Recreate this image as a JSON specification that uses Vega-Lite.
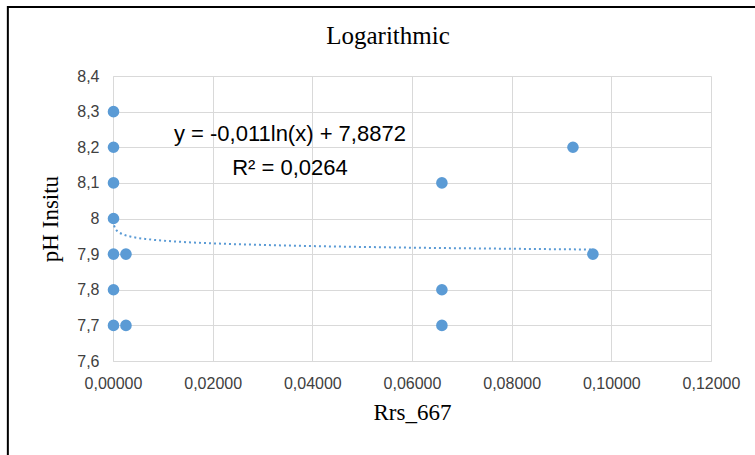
{
  "$schema": "https://vega.github.io/schema/vega-lite/v6.json",
  "width": 598,
  "height": 285,
  "autosize": {"type": "none"},
  "padding": {"left": 113, "top": 76, "right": 44, "bottom": 94},
  "background": "white",
  "title": {
    "text": "Logarithmic",
    "font": "Liberation Serif",
    "fontSize": 25,
    "fontWeight": "normal",
    "color": "#000000",
    "anchor": "middle",
    "frame": "group",
    "baseline": "middle",
    "dx": -24,
    "offset": -55
  },
  "config": {
    "locale": {"number": {"decimal": ",", "thousands": ".", "grouping": [3], "currency": ["", " €"]}},
    "view": {"stroke": null},
    "axis": {
      "labelFont": "Liberation Sans",
      "labelFontSize": 16,
      "labelColor": "#404040",
      "labelFlush": false,
      "labelOverlap": false,
      "titleFont": "Liberation Serif",
      "titleFontSize": 23,
      "titleFontWeight": "normal",
      "titleColor": "#000000",
      "gridColor": "#d9d9d9",
      "gridWidth": 1,
      "domainColor": "#d9d9d9",
      "ticks": false
    }
  },
  "datasets": {
    "points": [
      {"x": 0.0001, "y": 8.3},
      {"x": 0.0001, "y": 8.2},
      {"x": 0.0001, "y": 8.1},
      {"x": 0.0001, "y": 8.0},
      {"x": 0.0001, "y": 7.9},
      {"x": 0.0001, "y": 7.8},
      {"x": 0.0001, "y": 7.7},
      {"x": 0.0026, "y": 7.9},
      {"x": 0.0026, "y": 7.7},
      {"x": 0.066, "y": 8.1},
      {"x": 0.066, "y": 7.8},
      {"x": 0.066, "y": 7.7},
      {"x": 0.0923, "y": 8.2},
      {"x": 0.0963, "y": 7.9}
    ],
    "trend": [
      {"x": 0.0002, "y": 7.9809},
      {"x": 0.0005, "y": 7.9708},
      {"x": 0.001, "y": 7.9632},
      {"x": 0.002, "y": 7.9556},
      {"x": 0.004, "y": 7.9479},
      {"x": 0.007, "y": 7.9418},
      {"x": 0.01, "y": 7.9379},
      {"x": 0.015, "y": 7.9334},
      {"x": 0.02, "y": 7.9302},
      {"x": 0.03, "y": 7.9258},
      {"x": 0.04, "y": 7.9226},
      {"x": 0.05, "y": 7.9202},
      {"x": 0.06, "y": 7.9181},
      {"x": 0.07, "y": 7.9165},
      {"x": 0.08, "y": 7.915},
      {"x": 0.09, "y": 7.9137},
      {"x": 0.0963, "y": 7.9129}
    ],
    "notes": [
      {"x": 0.0355, "y": 8.237, "label": "y = -0,011ln(x) + 7,8872"},
      {"x": 0.0355, "y": 8.142, "label": "R² = 0,0264"}
    ],
    "frame": [
      {"x": -0.0211, "y": 8.594, "x2": 0.3, "y2": 6.0}
    ]
  },
  "encoding": {
    "x": {
      "field": "x", "type": "quantitative",
      "scale": {"domain": [0, 0.12], "nice": false, "zero": false},
      "axis": {"title": "Rrs_667", "values": [0, 0.02, 0.04, 0.06, 0.08, 0.1, 0.12], "format": ".5f", "labelPadding": 14, "titlePadding": 10}
    },
    "y": {
      "field": "y", "type": "quantitative",
      "scale": {"domain": [7.6, 8.4], "nice": false, "zero": false},
      "axis": {"title": "pH Insitu", "values": [7.6, 7.7, 7.8, 7.9, 8.0, 8.1, 8.2, 8.3, 8.4], "tickCount": 9, "format": "~g", "labelPadding": 14, "titlePadding": 14}
    }
  },
  "layer": [
    {
      "data": {"name": "frame"},
      "mark": {"type": "rect", "fill": null, "stroke": "#000000", "strokeWidth": 2, "clip": false},
      "encoding": {
        "x2": {"field": "x2"},
        "y2": {"field": "y2"}
      }
    },
    {
      "data": {"name": "trend"},
      "mark": {"type": "line", "color": "#5B9BD5", "strokeWidth": 2, "strokeDash": [2, 3], "interpolate": "monotone"}
    },
    {
      "data": {"name": "points"},
      "mark": {"type": "point", "filled": true, "opacity": 1, "color": "#5B9BD5", "size": 135}
    },
    {
      "data": {"name": "notes"},
      "mark": {"type": "text", "font": "Liberation Sans", "fontSize": 22, "color": "#000000", "align": "center", "baseline": "middle"},
      "encoding": {
        "text": {"field": "label"}
      }
    }
  ]
}
